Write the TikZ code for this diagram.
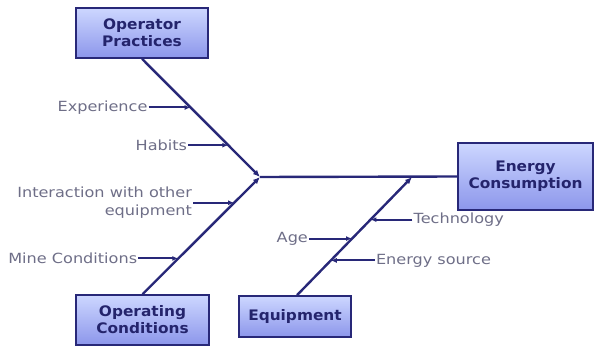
\documentclass[tikz,border=0pt]{standalone}
\usepackage{fontspec}
\setmainfont{DejaVu Sans}
\newfontfamily\labelfont[FakeStretch=1.15]{DejaVu Sans}
\newfontfamily\causefont[FakeStretch=1.06]{DejaVu Sans}
\usetikzlibrary{arrows.meta,calc}
\definecolor{navy}{RGB}{40,40,120}
\definecolor{labelgray}{RGB}{110,110,135}
\definecolor{boxtop}{RGB}{205,215,255}
\definecolor{boxbot}{RGB}{140,150,235}
\tikzset{
  cause/.style={draw=navy, line width=1.6pt, top color=boxtop, bottom color=boxbot,
    font=\causefont\bfseries\fontsize{14.5}{17}\selectfont, text=navy!90!black, align=center, inner sep=0pt},
  bone/.style={navy, line width=2.4pt},
  twig/.style={navy, line width=2pt, -{Latex[length=6pt,width=5pt]}},
  lbl/.style={text=labelgray, font=\labelfont\fontsize{14}{18}\selectfont, inner sep=1pt}
}
\begin{document}
\begin{tikzpicture}[x=1pt,y=-1pt]
    \useasboundingbox (0,0) rectangle (595,350);
    % cause boxes and effect
    \node[cause, minimum width=132pt, minimum height=50pt] (opp) at (142,33) {Operator\\Practices};
    \node[cause, minimum width=133pt, minimum height=50pt] (opc) at (142.5,320) {Operating\\Conditions};
    \node[cause, minimum width=112pt, minimum height=41pt] (eqp) at (295,316.5) {Equipment};
    \node[cause, minimum width=135pt, minimum height=67pt] (enc) at (525.5,176.5) {Energy\\Consumption};
    \coordinate (joint) at (260,177);
    \coordinate (eqh) at (412,177);
    % bones
    \draw[bone] (joint) -- (enc.west);
    \draw[bone,-{Latex[length=7pt,width=6pt]}] (opp.south) -- (joint);
    \draw[bone,-{Latex[length=7pt,width=6pt]}] (opc.north) -- (joint);
    \draw[bone,-{Latex[length=7pt,width=6pt]}] ([xshift=2pt]eqp.north) -- (eqh);
    % points on the bones
    \coordinate (pexp) at ($(opp.south)!0.412!(joint)$);
    \coordinate (phab) at ($(opp.south)!0.731!(joint)$);
    \coordinate (pint) at ($(opc.north)!0.78!(joint)$);
    \coordinate (pmin) at ($(opc.north)!0.305!(joint)$);
    \coordinate (ptec) at ($([xshift=2pt]eqp.north)!0.639!(eqh)$);
    \coordinate (page) at ($([xshift=2pt]eqp.north)!0.479!(eqh)$);
    \coordinate (psrc) at ($([xshift=2pt]eqp.north)!0.294!(eqh)$);
    % sub-causes
    \node[lbl, anchor=east] (exp) at ([xshift=-42pt]pexp) {Experience};
    \node[lbl, anchor=east] (hab) at ([xshift=-40pt]phab) {Habits};
    \node[lbl, anchor=east, align=right] (int) at ([xshift=-41pt]pint) {Interaction with other\\equipment};
    \node[lbl, anchor=east] (min) at ([xshift=-40pt]pmin) {Mine Conditions};
    \node[lbl, anchor=west] (tec) at ([xshift=42pt]ptec) {Technology};
    \node[lbl, anchor=east] (age) at ([xshift=-43pt]page) {Age};
    \node[lbl, anchor=west] (src) at ([xshift=44pt]psrc) {Energy source};
    \draw[twig] (exp.east) -- (pexp);
    \draw[twig] (hab.east) -- (phab);
    \draw[twig] (int.east) -- (pint);
    \draw[twig] (min.east) -- (pmin);
    \draw[twig] (tec.west) -- (ptec);
    \draw[twig] (age.east) -- (page);
    \draw[twig] (src.west) -- (psrc);
\end{tikzpicture}
\end{document}
